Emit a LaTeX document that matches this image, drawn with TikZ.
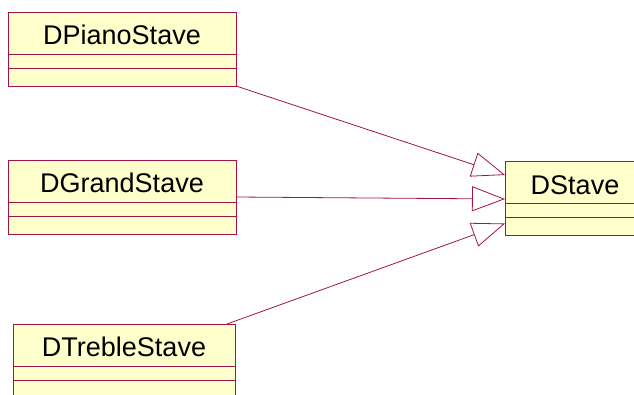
\documentclass[tikz,border=0pt]{standalone}
\usepackage{fontspec}
\setmainfont{Liberation Sans}
\usetikzlibrary{positioning}
\usetikzlibrary{arrows.meta}
\definecolor{umlred}{RGB}{160,20,70}
\definecolor{umlfill}{RGB}{255,255,204}
\tikzset{
    classname/.style = {rectangle, draw=umlred, fill=umlfill, line width=0.9pt, inner sep=0pt, outer sep=0pt, minimum height=42pt, text height=23pt, text depth=0pt, font=\fontsize{27}{30}\selectfont},
    classpart/.style = {rectangle, draw=umlred, fill=umlfill, line width=0.9pt, inner sep=0pt, outer sep=0pt, minimum height=#1},
    inherit/.style = {draw=umlred, line width=0.8pt, -{Triangle[open, length=33pt, width=25pt, fill=white]}}, % generalisation
}

\begin{document}
\begin{tikzpicture}[x=1pt, y=-1pt]
  \useasboundingbox (0,0) rectangle (634,394);

  % subclasses
  \node[classname, minimum width=228pt] at (122,33) (piano) {DPianoStave};
  \node[classpart=14pt, minimum width=228pt, below=0pt of piano] (pianoa) {};
  \node[classpart=18pt, minimum width=228pt, below=0pt of pianoa] (pianob) {};

  \node[classname, minimum width=228pt] at (122,181) (grand) {DGrandStave};
  \node[classpart=14pt, minimum width=228pt, below=0pt of grand] (granda) {};
  \node[classpart=18pt, minimum width=228pt, below=0pt of granda] (grandb) {};

  \node[classname, minimum width=222pt] at (124,345) (treble) {DTrebleStave};
  \node[classpart=14pt, minimum width=222pt, below=0pt of treble] (treblea) {};
  \node[classpart=18pt, minimum width=222pt, below=0pt of treblea] (trebleb) {};

  % base class
  \node[classname, minimum width=140pt] at (575,182.5) (stave) {DStave};
  \node[classpart=14pt, minimum width=140pt, below=0pt of stave] (stavea) {};
  \node[classpart=18pt, minimum width=140pt, below=0pt of stavea] (staveb) {};

  \draw[inherit] (pianob.south east) -- ([yshift=7.5pt]stave.west);
  \draw[inherit] ([yshift=-16pt]grand.east) -- ([yshift=-16.5pt]stave.west);
  \draw[inherit] ([xshift=-8pt]treble.north east) -- ([yshift=3pt]staveb.west);
\end{tikzpicture}
\end{document}
